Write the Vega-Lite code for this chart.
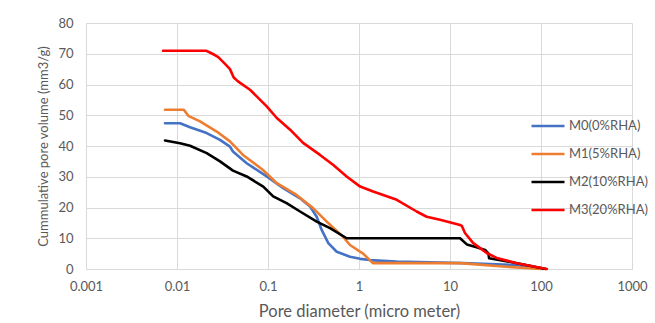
{
  "$schema": "https://vega.github.io/schema/vega-lite/v6.json",
  "width": 546,
  "height": 246,
  "autosize": {"type": "none"},
  "padding": {"left": 86, "top": 23, "right": 23, "bottom": 54},
  "background": "white",
  "config": {
    "view": {"stroke": null},
    "font": "Lato",
    "axis": {"labelFont": "Lato", "titleFont": "Lato", "labelColor": "#595959", "titleColor": "#595959", "titleFontWeight": "normal", "gridColor": "#d9d9d9", "gridWidth": 1, "domainColor": "#d9d9d9", "ticks": false},
    "legend": {"labelFont": "Lato", "labelColor": "#595959"}
  },
  "data": {
    "values": [
      {"s": "M0(0%RHA)", "d": 0.00738, "v": 47.4},
      {"s": "M0(0%RHA)", "d": 0.0108, "v": 47.4},
      {"s": "M0(0%RHA)", "d": 0.0139, "v": 46.1},
      {"s": "M0(0%RHA)", "d": 0.0212, "v": 44.2},
      {"s": "M0(0%RHA)", "d": 0.0297, "v": 42.0},
      {"s": "M0(0%RHA)", "d": 0.0382, "v": 39.8},
      {"s": "M0(0%RHA)", "d": 0.0412, "v": 38.2},
      {"s": "M0(0%RHA)", "d": 0.0583, "v": 34.4},
      {"s": "M0(0%RHA)", "d": 0.0968, "v": 30.1},
      {"s": "M0(0%RHA)", "d": 0.147, "v": 26.3},
      {"s": "M0(0%RHA)", "d": 0.225, "v": 23.0},
      {"s": "M0(0%RHA)", "d": 0.29, "v": 20.3},
      {"s": "M0(0%RHA)", "d": 0.343, "v": 17.0},
      {"s": "M0(0%RHA)", "d": 0.389, "v": 12.7},
      {"s": "M0(0%RHA)", "d": 0.46, "v": 8.4},
      {"s": "M0(0%RHA)", "d": 0.569, "v": 5.6},
      {"s": "M0(0%RHA)", "d": 0.796, "v": 4.0},
      {"s": "M0(0%RHA)", "d": 1.03, "v": 3.3},
      {"s": "M0(0%RHA)", "d": 1.32, "v": 2.9},
      {"s": "M0(0%RHA)", "d": 2.6, "v": 2.4},
      {"s": "M0(0%RHA)", "d": 13.9, "v": 1.9},
      {"s": "M0(0%RHA)", "d": 54, "v": 1.3},
      {"s": "M0(0%RHA)", "d": 105, "v": 0},
      {"s": "M1(5%RHA)", "d": 0.00738, "v": 51.8},
      {"s": "M1(5%RHA)", "d": 0.0119, "v": 51.8},
      {"s": "M1(5%RHA)", "d": 0.0133, "v": 49.8},
      {"s": "M1(5%RHA)", "d": 0.0179, "v": 48.0},
      {"s": "M1(5%RHA)", "d": 0.0273, "v": 44.7},
      {"s": "M1(5%RHA)", "d": 0.0382, "v": 41.5},
      {"s": "M1(5%RHA)", "d": 0.0531, "v": 37.1},
      {"s": "M1(5%RHA)", "d": 0.0881, "v": 32.2},
      {"s": "M1(5%RHA)", "d": 0.125, "v": 27.9},
      {"s": "M1(5%RHA)", "d": 0.206, "v": 24.1},
      {"s": "M1(5%RHA)", "d": 0.313, "v": 19.8},
      {"s": "M1(5%RHA)", "d": 0.442, "v": 15.4},
      {"s": "M1(5%RHA)", "d": 0.667, "v": 10.5},
      {"s": "M1(5%RHA)", "d": 0.796, "v": 7.8},
      {"s": "M1(5%RHA)", "d": 1.11, "v": 5.0},
      {"s": "M1(5%RHA)", "d": 1.42, "v": 1.9},
      {"s": "M1(5%RHA)", "d": 13, "v": 1.9},
      {"s": "M1(5%RHA)", "d": 38, "v": 0.8},
      {"s": "M1(5%RHA)", "d": 100, "v": 0},
      {"s": "M2(10%RHA)", "d": 0.00738, "v": 41.8},
      {"s": "M2(10%RHA)", "d": 0.0108, "v": 40.9},
      {"s": "M2(10%RHA)", "d": 0.0139, "v": 40.1},
      {"s": "M2(10%RHA)", "d": 0.0212, "v": 37.7},
      {"s": "M2(10%RHA)", "d": 0.0297, "v": 35.0},
      {"s": "M2(10%RHA)", "d": 0.0412, "v": 32.0},
      {"s": "M2(10%RHA)", "d": 0.0583, "v": 30.1},
      {"s": "M2(10%RHA)", "d": 0.0887, "v": 26.8},
      {"s": "M2(10%RHA)", "d": 0.114, "v": 23.6},
      {"s": "M2(10%RHA)", "d": 0.16, "v": 21.4},
      {"s": "M2(10%RHA)", "d": 0.225, "v": 18.7},
      {"s": "M2(10%RHA)", "d": 0.343, "v": 15.4},
      {"s": "M2(10%RHA)", "d": 0.48, "v": 13.3},
      {"s": "M2(10%RHA)", "d": 0.732, "v": 10.0},
      {"s": "M2(10%RHA)", "d": 12.9, "v": 10.0},
      {"s": "M2(10%RHA)", "d": 15.3, "v": 8.0},
      {"s": "M2(10%RHA)", "d": 19.6, "v": 7.1},
      {"s": "M2(10%RHA)", "d": 24.3, "v": 6.2},
      {"s": "M2(10%RHA)", "d": 26.4, "v": 5.1},
      {"s": "M2(10%RHA)", "d": 26.9, "v": 3.5},
      {"s": "M2(10%RHA)", "d": 54.9, "v": 1.9},
      {"s": "M2(10%RHA)", "d": 113, "v": 0},
      {"s": "M3(20%RHA)", "d": 0.00702, "v": 71.0},
      {"s": "M3(20%RHA)", "d": 0.0208, "v": 71.0},
      {"s": "M3(20%RHA)", "d": 0.0245, "v": 70.0},
      {"s": "M3(20%RHA)", "d": 0.0282, "v": 69.0},
      {"s": "M3(20%RHA)", "d": 0.0335, "v": 66.8},
      {"s": "M3(20%RHA)", "d": 0.0382, "v": 65.0},
      {"s": "M3(20%RHA)", "d": 0.042, "v": 62.3},
      {"s": "M3(20%RHA)", "d": 0.0468, "v": 61.0},
      {"s": "M3(20%RHA)", "d": 0.0634, "v": 58.3},
      {"s": "M3(20%RHA)", "d": 0.0968, "v": 52.9},
      {"s": "M3(20%RHA)", "d": 0.125, "v": 49.1},
      {"s": "M3(20%RHA)", "d": 0.175, "v": 45.3},
      {"s": "M3(20%RHA)", "d": 0.243, "v": 41.0},
      {"s": "M3(20%RHA)", "d": 0.373, "v": 37.1},
      {"s": "M3(20%RHA)", "d": 0.518, "v": 33.9},
      {"s": "M3(20%RHA)", "d": 0.732, "v": 30.1},
      {"s": "M3(20%RHA)", "d": 1.03, "v": 26.8},
      {"s": "M3(20%RHA)", "d": 1.43, "v": 25.2},
      {"s": "M3(20%RHA)", "d": 2.6, "v": 22.5},
      {"s": "M3(20%RHA)", "d": 4.3, "v": 18.7},
      {"s": "M3(20%RHA)", "d": 5.54, "v": 17.0},
      {"s": "M3(20%RHA)", "d": 7.77, "v": 16.0},
      {"s": "M3(20%RHA)", "d": 12.9, "v": 14.3},
      {"s": "M3(20%RHA)", "d": 13.5, "v": 14.0},
      {"s": "M3(20%RHA)", "d": 14.6, "v": 11.7},
      {"s": "M3(20%RHA)", "d": 17.9, "v": 8.5},
      {"s": "M3(20%RHA)", "d": 25.3, "v": 5.2},
      {"s": "M3(20%RHA)", "d": 32.6, "v": 3.6},
      {"s": "M3(20%RHA)", "d": 54.1, "v": 1.9},
      {"s": "M3(20%RHA)", "d": 116, "v": 0}
    ]
  },
  "mark": {"type": "line", "strokeWidth": 2.6, "strokeJoin": "round", "strokeCap": "round"},
  "encoding": {
    "x": {
      "field": "d", "type": "quantitative",
      "scale": {"type": "log", "domain": [0.001, 1000], "nice": false},
      "axis": {"values": [0.001, 0.01, 0.1, 1, 10, 100, 1000], "format": "~g", "title": "Pore diameter (micro meter)", "labelFontSize": 13, "titleFontSize": 16.5, "labelPadding": 11, "titlePadding": 10, "labelFlush": false, "labelOverlap": false, "grid": true}
    },
    "y": {
      "field": "v", "type": "quantitative",
      "scale": {"domain": [0, 80], "nice": false},
      "axis": {"values": [0, 10, 20, 30, 40, 50, 60, 70, 80], "title": "Cummulative pore volume  (mm3/g)", "labelFontSize": 13, "titleFontSize": 13, "labelPadding": 13, "titlePadding": 7, "domain": false, "grid": true}
    },
    "color": {
      "field": "s", "type": "nominal",
      "scale": {"domain": ["M0(0%RHA)", "M1(5%RHA)", "M2(10%RHA)", "M3(20%RHA)"], "range": ["#4472C4", "#ED7D31", "#000000", "#FF0000"]},
      "legend": {"title": null, "orient": "none", "legendX": 444, "legendY": 89, "symbolType": "stroke", "symbolSize": 1089, "symbolStrokeWidth": 2.6, "clipHeight": 28, "rowPadding": 0, "labelFontSize": 13, "labelOffset": 3, "padding": 0}
    }
  }
}
